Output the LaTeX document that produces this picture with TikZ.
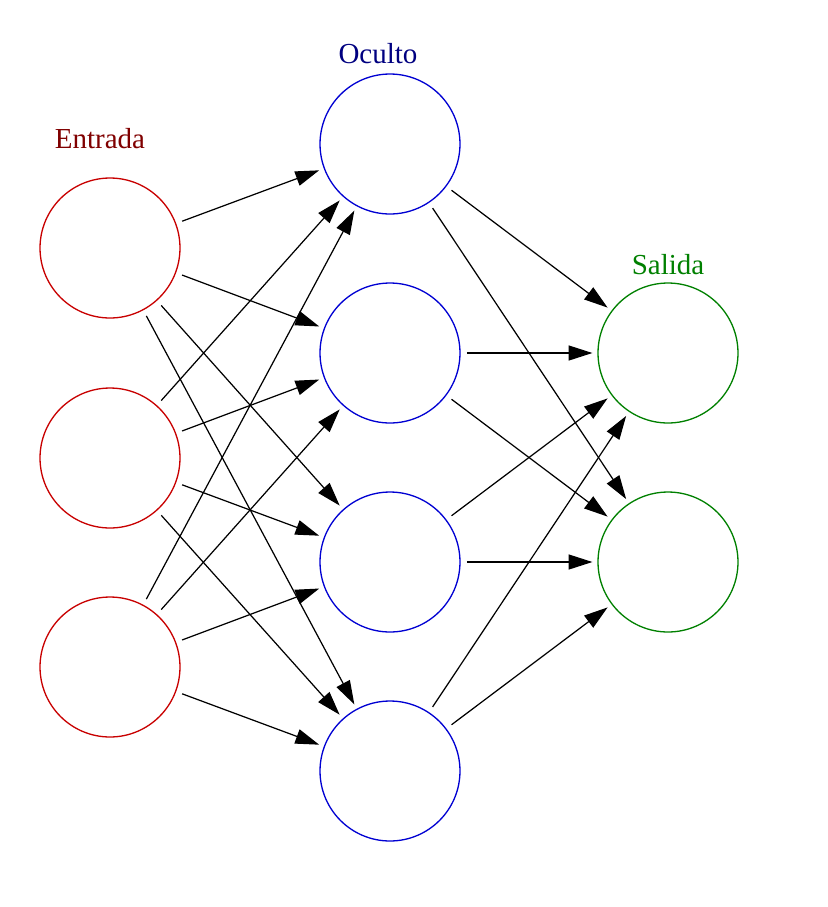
\documentclass[tikz,border=0pt]{standalone}
\usepackage{fontspec}
\setmainfont{Liberation Serif}
\usepackage{xcolor}
\usepackage{tikz}
\usetikzlibrary{arrows.meta}
\definecolor{inred}{RGB}{200,0,0}
\definecolor{hidblue}{RGB}{0,0,210}
\definecolor{outgreen}{RGB}{0,128,0}
\tikzstyle{neuron}=[circle,line width=0.75pt,minimum size=2.8cm,inner sep=0pt]
\tikzstyle{input}=[neuron,draw=inred]
\tikzstyle{hidden}=[neuron,draw=hidblue]
\tikzstyle{output}=[neuron,draw=outgreen]
\tikzstyle{layer}=[anchor=base,inner sep=0pt,font=\fontsize{16.5}{20}\selectfont]
\tikzstyle{link}=[-{Triangle[length=13.5pt,width=8.5pt]},line width=0.7pt,shorten <=3.6pt,shorten >=2.8pt]

\begin{document}
\begin{tikzpicture}[x=0.02cm,y=-0.02cm]
        \useasboundingbox (0,0) rectangle (828,907);

        \node at (110,248) [input]  (i1) {};
        \node at (110,458) [input]  (i2) {};
        \node at (110,667) [input]  (i3) {};

        \node at (390,144) [hidden] (h1) {};
        \node at (390,353) [hidden] (h2) {};
        \node at (390,562) [hidden] (h3) {};
        \node at (390,771) [hidden] (h4) {};

        \node at (668,353) [output] (o1) {};
        \node at (668,562) [output] (o2) {};

        \node at (100,148) [layer,text=red!50!black]  (tin)  {Entrada};
        \node at (378,63)  [layer,text=blue!50!black] (thid) {Oculto};
        \node at (668,274) [layer,text=outgreen]      (tout) {Salida};

        \draw [link] (i1) -- (h1);
        \draw [link] (i1) -- (h2);
        \draw [link] (i1) -- (h3);
        \draw [link] (i1) -- (h4);
        \draw [link] (i2) -- (h1);
        \draw [link] (i2) -- (h2);
        \draw [link] (i2) -- (h3);
        \draw [link] (i2) -- (h4);
        \draw [link] (i3) -- (h1);
        \draw [link] (i3) -- (h2);
        \draw [link] (i3) -- (h3);
        \draw [link] (i3) -- (h4);

        \draw [link] (h1) -- (o1);
        \draw [link] (h1) -- (o2);
        \draw [link] (h2) -- (o1);
        \draw [link] (h2) -- (o2);
        \draw [link] (h3) -- (o1);
        \draw [link] (h3) -- (o2);
        \draw [link] (h4) -- (o1);
        \draw [link] (h4) -- (o2);
      \end{tikzpicture}
\end{document}
